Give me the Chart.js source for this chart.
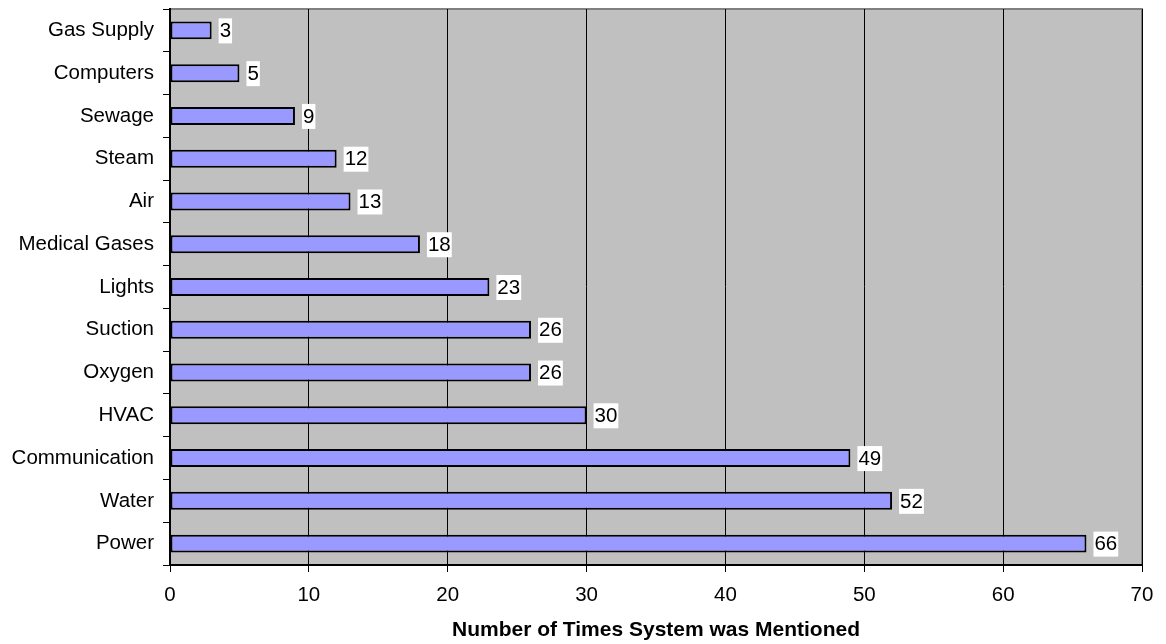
<!DOCTYPE html>
<html>
<head>
<meta charset="utf-8">
<script src="https://cdn.jsdelivr.net/npm/chart.js@4/dist/chart.umd.min.js"></script>
<style>
  html, body { margin: 0; padding: 0; background: #fff; }
  #wrap { width: 1166px; height: 644px; }
</style>
</head>
<body>
<div id="wrap"><canvas id="sysChart"></canvas></div>
<script>
// categories top to bottom, as in the picture
var systems = ['Gas Supply', 'Computers', 'Sewage', 'Steam', 'Air', 'Medical Gases', 'Lights',
  'Suction', 'Oxygen', 'HVAC', 'Communication', 'Water', 'Power'];
var mentions = [3, 5, 9, 12, 13, 18, 23, 26, 26, 30, 49, 52, 66];
var xTicks = [0, 10, 20, 30, 40, 50, 60, 70];
var xTitle = 'Number of Times System was Mentioned';

var FONT = 'Arial, "Liberation Sans", sans-serif';

// gray plot background + darker frame on top/right
var plotBg = {
  id: 'plotBg',
  beforeDraw: function(chart) {
    var a = chart.chartArea, c = chart.ctx;
    c.save();
    c.fillStyle = '#c0c0c0';
    c.fillRect(a.left, a.top, a.right - a.left, a.bottom - a.top);
    c.strokeStyle = '#808080';
    c.lineWidth = 2;
    c.beginPath();
    c.moveTo(a.left, a.top);
    c.lineTo(a.right, a.top);
    c.lineTo(a.right, a.bottom);
    c.stroke();
    c.restore();
  }
};

// value labels in white boxes right of each bar
var valueLabels = {
  id: 'valueLabels',
  afterDatasetsDraw: function(chart) {
    var c = chart.ctx;
    var meta = chart.getDatasetMeta(0);
    c.save();
    c.font = '20.5px ' + FONT;
    c.textBaseline = 'middle';
    meta.data.forEach(function(bar, i) {
      var txt = String(mentions[i]);
      var w = c.measureText(txt).width;
      var x = bar.x + 7;
      var y = bar.y;
      c.fillStyle = '#fff';
      c.fillRect(x, y - 12, w + 2, 25);
      c.fillStyle = '#000';
      c.fillText(txt, x + 1, y + 1);
    });
    c.restore();
  }
};

var ctx = document.getElementById('sysChart').getContext('2d');

var chart = new Chart(ctx, {
  type: 'bar',
  data: {
    labels: systems,
    datasets: [{
      data: mentions,
      backgroundColor: '#9999ff',
      borderColor: '#000',
      borderWidth: 2,
      borderSkipped: false,
      barPercentage: 0.42,
      categoryPercentage: 1
    }]
  },
  plugins: [plotBg, valueLabels],
  options: {
    indexAxis: 'y',
    responsive: true,
    maintainAspectRatio: false,
    animation: false,
    layout: { padding: { top: 9, right: 24, left: 0, bottom: 0 } },
    plugins: {
      legend: { display: false },
      tooltip: { enabled: false }
    },
    scales: {
      x: {
        min: 0,
        max: 70,
        afterBuildTicks: function(scale) {
          scale.ticks = xTicks.map(function(v) { return { value: v }; });
        },
        afterFit: function(scale) {
          scale.height = 79;
          scale.paddingLeft = 0;
          scale.paddingRight = 0;
        },
        grid: {
          color: '#000',
          lineWidth: 1,
          tickLength: 7,
          drawOnChartArea: true
        },
        border: { color: '#000', width: 2 },
        ticks: {
          color: '#000',
          padding: 11,
          font: { family: FONT, size: 20.5 }
        },
        title: {
          display: true,
          text: xTitle,
          color: '#000',
          padding: { top: 4, bottom: 1 },
          font: { family: FONT, size: 21, weight: 'bold' }
        }
      },
      y: {
        afterFit: function(scale) {
          scale.width = 170;
          scale.paddingTop = 0;
          scale.paddingBottom = 0;
        },
        grid: {
          offset: true,
          color: '#000',
          drawOnChartArea: false,
          tickLength: 7
        },
        border: { color: '#000', width: 2 },
        ticks: {
          color: '#000',
          padding: 9,
          font: { family: FONT, size: 20.5 }
        }
      }
    }
  }
});
</script>
</body>
</html>
